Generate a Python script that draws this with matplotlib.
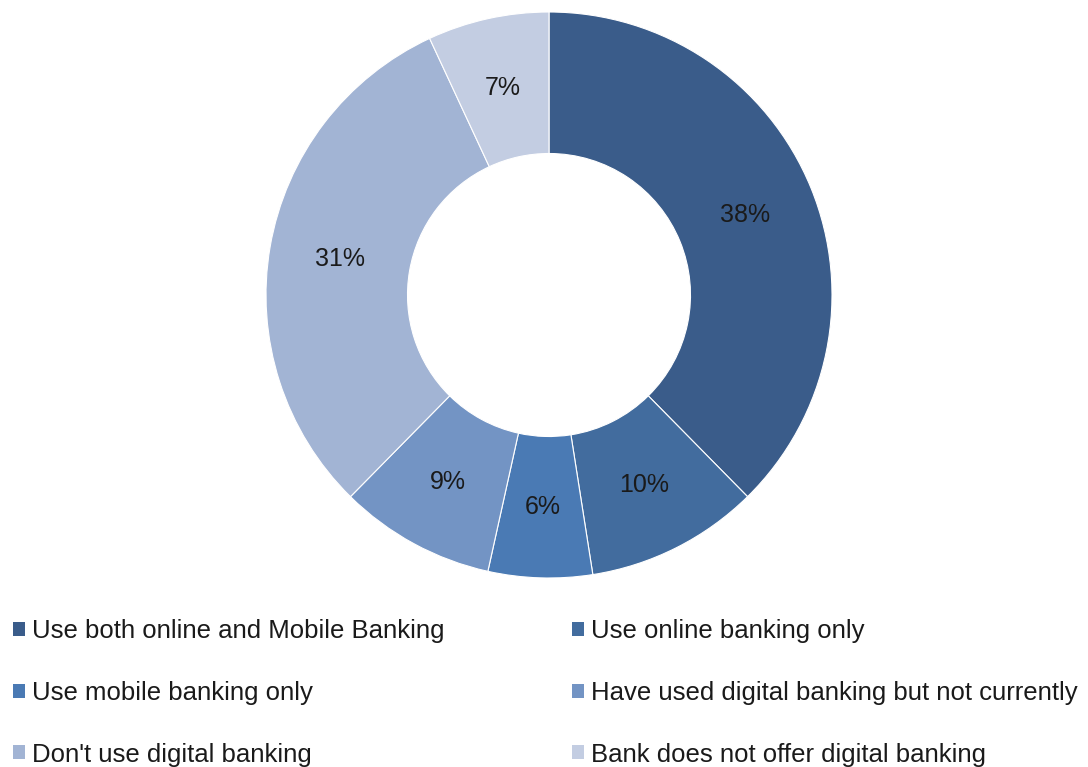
import matplotlib.pyplot as plt

# Survey shares
labels = ['Use both online and Mobile Banking', 'Use online banking only',
          'Use mobile banking only', 'Have used digital banking but not currently',
          "Don't use digital banking", 'Bank does not offer digital banking']
values = [38, 10, 6, 9, 31, 7]
colors = ['#3A5C8A', '#426C9E', '#4A7AB4', '#7394C4', '#A2B4D4', '#C3CDE2']

plt.rcParams['font.family'] = ['Liberation Sans', 'DejaVu Sans']

fig = plt.figure(figsize=(10.88, 7.67), dpi=100)
ax = fig.add_axes([266 / 1088, 1 - 578 / 767, 566 / 1088, 566 / 767])

wedges, texts, autotexts = ax.pie(
    values, colors=colors, startangle=90, counterclock=False,
    autopct='%d%%', pctdistance=0.75,
    wedgeprops=dict(width=0.5, edgecolor='white', linewidth=0.8),
    textprops=dict(fontsize=18, color='#1a1a1a'))
# show the rounded survey numbers as given
for t, v in zip(autotexts, values):
    t.set_text(f'{v}%')
ax.set_xlim(-1, 1)
ax.set_ylim(-1, 1)

# legend laid out two columns wide, filled column first
order = [0, 2, 4, 1, 3, 5]
leg = fig.legend([wedges[i] for i in order], [labels[i] for i in order],
                 ncol=2, loc='upper left', bbox_to_anchor=(13 / 1088, 1 - 619 / 767),
                 frameon=False, fontsize=18.5, handlelength=0.47, handleheight=0.47,
                 handletextpad=0.27, labelspacing=1.47, columnspacing=4.95,
                 borderaxespad=0, borderpad=0)
for t in leg.get_texts():
    t.set_color('#1a1a1a')
for h in leg.legend_handles:
    h.set_edgecolor('none')

fig.savefig('out.png', dpi=100)
